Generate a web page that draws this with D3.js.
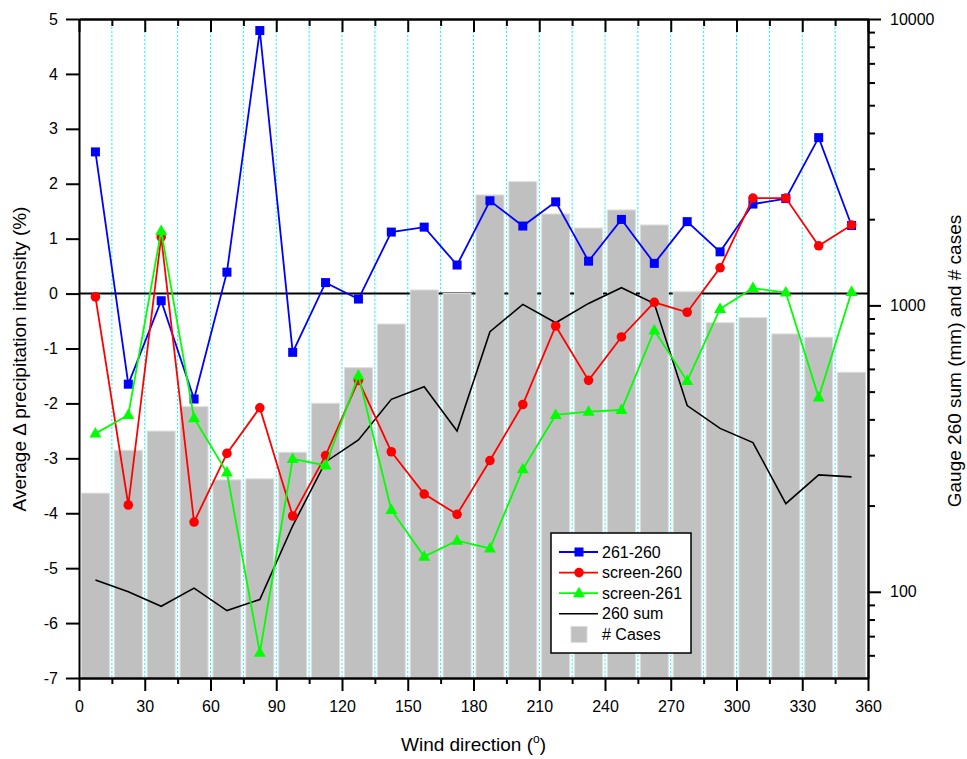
<!DOCTYPE html>
<html>
<head>
<meta charset="utf-8">
<script src="https://cdn.jsdelivr.net/npm/d3@7/dist/d3.min.js"></script>
<style>
  html, body { margin: 0; padding: 0; background: #fff; }
  svg { display: block; font-family: "Liberation Sans", Arial, sans-serif; }
</style>
</head>
<body>
<svg id="chart" width="967" height="759"></svg>
<script>
// Wind direction sector centres (degrees)
const directions = [7.5, 22.5, 37.5, 52.5, 67.5, 82.5, 97.5, 112.5, 127.5, 142.5, 157.5, 172.5,
                    187.5, 202.5, 217.5, 232.5, 247.5, 262.5, 277.5, 292.5, 307.5, 322.5, 337.5, 352.5];

// Average difference in precipitation intensity (%)
const diff261_260 = [2.58, -1.65, -0.13, -1.92, 0.39, 4.79, -1.07, 0.20, -0.10, 1.12, 1.21, 0.52,
                     1.69, 1.23, 1.67, 0.59, 1.35, 0.55, 1.31, 0.76, 1.63, 1.73, 2.84, 1.24];
const diffScreen260 = [-0.06, -3.85, 1.03, -4.16, -2.91, -2.08, -4.05, -2.95, -1.58, -2.88, -3.65, -4.02,
                       -3.04, -2.02, -0.59, -1.58, -0.79, -0.16, -0.34, 0.47, 1.74, 1.74, 0.87, 1.25];
const diffScreen261 = [-2.55, -2.21, 1.14, -2.27, -3.26, -6.54, -3.01, -3.13, -1.49, -3.94, -4.79, -4.50,
                       -4.64, -3.20, -2.21, -2.15, -2.12, -0.67, -1.59, -0.28, 0.10, 0.02, -1.89, 0.03];

// Gauge 260 precipitation sum (mm) and number of cases per sector
const sum260 = [110, 100, 89, 103, 86, 94, 170, 284, 339, 470, 520, 364,
                809, 1008, 870, 1016, 1153, 1015, 447, 372, 332, 203, 256, 252];
const cases = [221, 312, 364, 443, 246, 248, 307, 455, 606, 861, 1132, 1100,
               2430, 2704, 2085, 1863, 2154, 1909, 1116, 870, 906, 795, 774, 584];

// Axis ticks
const xMajorTicks = [0, 30, 60, 90, 120, 150, 180, 210, 240, 270, 300, 330, 360];
const xMinorTicks = [15, 45, 75, 105, 135, 165, 195, 225, 255, 285, 315, 345];
const yLeftTicks = [-7, -6, -5, -4, -3, -2, -1, 0, 1, 2, 3, 4, 5];
const yRightMajor = [100, 1000, 10000];
const yRightMinor = [60, 70, 80, 90, 200, 300, 400, 500, 600, 700, 800, 900,
                     2000, 3000, 4000, 5000, 6000, 7000, 8000, 9000];

const legendItems = ["261-260", "screen-260", "screen-261", "260 sum", "# Cases"];

const W = 967, H = 759;
const m = { left: 79, right: 99, top: 19, bottom: 81 };
const iw = W - m.left - m.right, ih = H - m.top - m.bottom;

const svg = d3.select("#chart");
const g = svg.append("g").attr("transform", `translate(${m.left},${m.top})`);

const x = d3.scaleLinear().domain([0, 360]).range([0, iw]);
const y = d3.scaleLinear().domain([-7, 5]).range([ih, 0]);
const yR = d3.scaleLog().domain([50, 10000]).range([ih, 0]);

const FONT = 16;

// Vertical dotted grid at every 15 degrees
g.append("g").selectAll("line")
  .data(xMajorTicks.concat(xMinorTicks).filter(d => d > 0 && d < 360))
  .join("line")
  .attr("x1", d => x(d)).attr("x2", d => x(d))
  .attr("y1", 0).attr("y2", ih)
  .attr("stroke", "#00ffff").attr("stroke-width", 1)
  .attr("stroke-dasharray", "2,2");

// Zero reference line
g.append("line")
  .attr("x1", 0).attr("x2", iw).attr("y1", y(0)).attr("y2", y(0))
  .attr("stroke", "#000").attr("stroke-width", 2);

// Case-count bars on the log axis
const barW = x(15) * 0.85;
g.append("g").selectAll("rect")
  .data(directions.map((d, i) => ({ d, v: cases[i] })))
  .join("rect")
  .attr("x", p => x(p.d) - barW / 2)
  .attr("width", barW)
  .attr("y", p => yR(p.v))
  .attr("height", p => ih - yR(p.v))
  .attr("fill", "#c0c0c0")
  .attr("stroke", "#dcdcdc").attr("stroke-width", 1);

// Gauge 260 sum line
g.append("path")
  .datum(directions.map((d, i) => [x(d), yR(sum260[i])]))
  .attr("d", d3.line())
  .attr("fill", "none").attr("stroke", "#000").attr("stroke-width", 1.6);

// Marker shapes
function marker(sel, shape, color) {
  if (shape === "square") {
    sel.append("rect").attr("x", -4.5).attr("y", -4.5).attr("width", 9).attr("height", 9).attr("fill", color);
  } else if (shape === "circle") {
    sel.append("circle").attr("r", 4.8).attr("fill", color);
  } else {
    sel.append("path").attr("d", "M0,-6.5L6,4L-6,4Z").attr("fill", color);
  }
}

const series = [
  { vals: diff261_260, color: "#0000ff", shape: "square" },
  { vals: diffScreen260, color: "#ff0000", shape: "circle" },
  { vals: diffScreen261, color: "#00ff00", shape: "triangle" }
];

series.forEach(s => {
  const pts = directions.map((d, i) => [x(d), y(s.vals[i])]);
  g.append("path").datum(pts).attr("d", d3.line())
    .attr("fill", "none").attr("stroke", s.color).attr("stroke-width", 1.8);
  const mk = g.append("g").selectAll("g").data(pts).join("g")
    .attr("transform", p => `translate(${p[0]},${p[1]})`);
  mk.each(function () { marker(d3.select(this), s.shape, s.color); });
});

// Axes
function styleAxis(sel) {
  sel.select(".domain").attr("stroke", "#000").attr("stroke-width", 2);
  sel.selectAll(".tick line").attr("stroke", "#000").attr("stroke-width", 2);
  sel.selectAll("text").attr("font-size", FONT).attr("fill", "#000")
    .attr("font-family", "\"Liberation Sans\", Arial, sans-serif");
}

// bottom
g.append("g").attr("transform", `translate(0,${ih})`)
  .call(d3.axisBottom(x).tickValues(xMajorTicks).tickSize(13).tickSizeOuter(0).tickPadding(10).tickFormat(d => String(d)))
  .call(styleAxis);
g.append("g").attr("transform", `translate(0,${ih})`)
  .call(d3.axisBottom(x).tickValues(xMinorTicks).tickSize(6).tickSizeOuter(0).tickFormat(""))
  .call(styleAxis);
// top (ticks pointing inward)
g.append("g")
  .call(d3.axisTop(x).tickValues(xMajorTicks).tickSize(-13).tickSizeOuter(0).tickFormat(""))
  .call(styleAxis);
g.append("g")
  .call(d3.axisTop(x).tickValues(xMinorTicks).tickSize(-7).tickSizeOuter(0).tickFormat(""))
  .call(styleAxis);
// left
g.append("g")
  .call(d3.axisLeft(y).tickValues(yLeftTicks).tickSize(13).tickSizeOuter(0).tickPadding(8).tickFormat(d => String(d)))
  .call(styleAxis);
// right (log)
g.append("g").attr("transform", `translate(${iw},0)`)
  .call(d3.axisRight(yR).tickValues(yRightMajor).tickSize(13).tickSizeOuter(0).tickPadding(9).tickFormat(d => String(d)))
  .call(styleAxis);
g.append("g").attr("transform", `translate(${iw},0)`)
  .call(d3.axisRight(yR).tickValues(yRightMinor).tickSize(7).tickSizeOuter(0).tickFormat(""))
  .call(styleAxis);

// Axis titles
const TITLE = 19;
const xt = svg.append("text")
  .attr("x", m.left + x(180)).attr("y", 751)
  .attr("text-anchor", "middle").attr("font-size", TITLE).attr("fill", "#000");
xt.append("tspan").text("Wind direction (");
xt.append("tspan").attr("font-size", 12).attr("dy", -8).text("o");
xt.append("tspan").attr("dy", 8).text(")");

svg.append("text")
  .attr("transform", `translate(26,359) rotate(-90)`)
  .attr("text-anchor", "middle").attr("font-size", TITLE).attr("fill", "#000")
  .text("Average \u0394 precipitation intensity (%)");

svg.append("text")
  .attr("transform", `translate(961,361) rotate(-90)`)
  .attr("text-anchor", "middle").attr("font-size", TITLE).attr("fill", "#000")
  .text("Gauge 260 sum (mm) and # cases");

// Legend
const lg = svg.append("g").attr("transform", "translate(551,533)");
lg.append("rect").attr("width", 140).attr("height", 120)
  .attr("fill", "#fff").attr("stroke", "#000").attr("stroke-width", 1.5);
const rowY = i => 19 + i * 20.6;
const legendStyles = [
  { color: "#0000ff", shape: "square" },
  { color: "#ff0000", shape: "circle" },
  { color: "#00ff00", shape: "triangle" },
  { color: "#000000", shape: null },
  { color: "#c0c0c0", shape: "bar" }
];
legendItems.forEach((label, i) => {
  const st = legendStyles[i];
  const row = lg.append("g").attr("transform", `translate(0,${rowY(i)})`);
  if (st.shape === "bar") {
    row.append("rect").attr("x", 20).attr("y", -8).attr("width", 16).attr("height", 16)
      .attr("fill", "#c0c0c0").attr("stroke", "#dcdcdc");
  } else {
    row.append("line").attr("x1", 8).attr("x2", 47).attr("y1", 0).attr("y2", 0)
      .attr("stroke", st.color).attr("stroke-width", st.shape ? 1.8 : 1.6);
    if (st.shape) {
      const mg = row.append("g").attr("transform", "translate(28,0)");
      marker(mg, st.shape, st.color);
    }
  }
  row.append("text").attr("x", 51).attr("y", 0).attr("dy", "0.35em")
    .attr("font-size", FONT).attr("fill", "#000").text(label);
});
</script>
</body>
</html>
